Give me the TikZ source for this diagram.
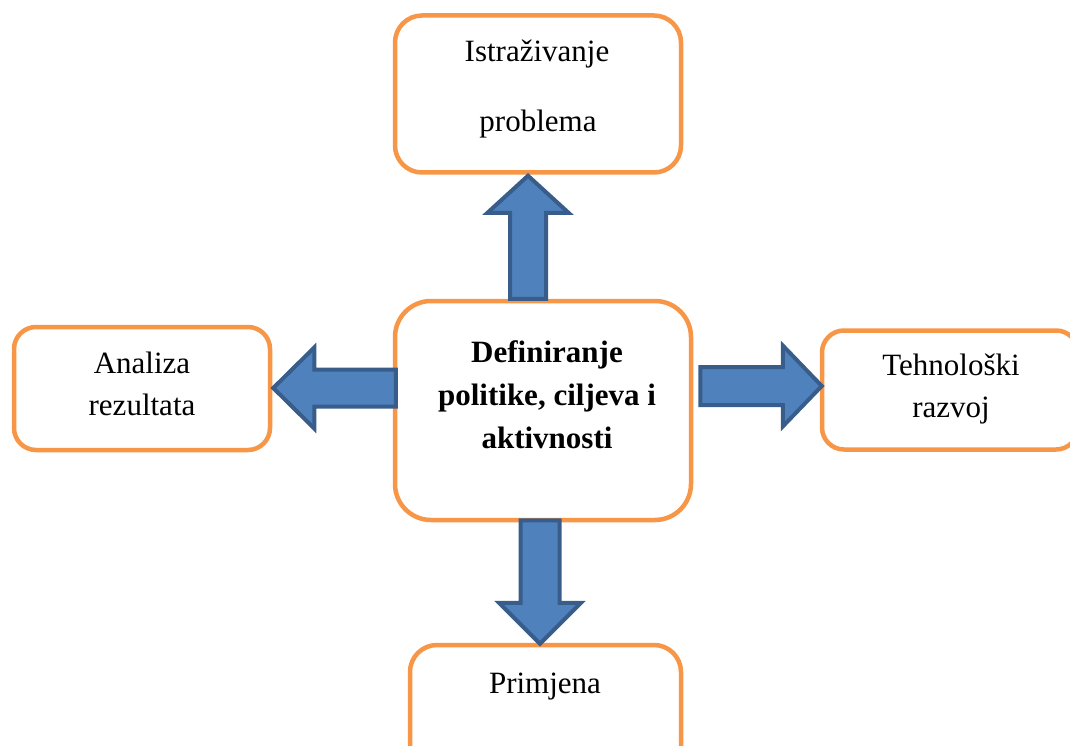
\documentclass[tikz,border=0pt]{standalone}
\usepackage{fontspec}
\setmainfont{Liberation Serif}
\usetikzlibrary{calc}
\definecolor{boxorange}{HTML}{F79646}
\definecolor{arrowfill}{HTML}{4F81BD}
\definecolor{arrowedge}{HTML}{385D8A}
% #1 start, #2 tip, #3 shaft half width, #4 head half width, #5 head length
\newcommand\blockarrow[5]{%
  \path ($(#2)!#5!(#1)$) coordinate (bah);
  \draw[barrow] ($(#1)!#3!90:(#2)$) -- ($(bah)!#3!90:(#2)$) -- ($(bah)!#4!90:(#2)$)
    -- (#2) -- ($(bah)!#4!-90:(#2)$) -- ($(bah)!#3!-90:(#2)$) -- ($(#1)!#3!-90:(#2)$) -- cycle;
}
\begin{document}
\begin{tikzpicture}[x=1pt,y=-1pt,
  box/.style={draw=boxorange, line width=4.5pt, fill=white, rounded corners=#1, inner sep=0pt},
  txt/.style={font=\fontsize{31}{43}\selectfont, anchor=base, inner sep=0pt},
  btxt/.style={txt, font=\fontsize{31}{43}\selectfont\bfseries},
  barrow/.style={draw=arrowedge, fill=arrowfill, line width=4pt, line join=miter}]
\useasboundingbox (0,0) rectangle (1070,746);
\clip (0,0) rectangle (1070,746);

% boxes
\node[box=27pt, minimum width=286, minimum height=157] (top) at (538,94) {};
\node[box=36pt, minimum width=296, minimum height=219] (center) at (543,410.5) {};
\node[box=22pt, minimum width=256, minimum height=123] (left) at (142,388.5) {};
\node[box=22pt, minimum width=256, minimum height=119] (right) at (950,390) {};
\node[box=27pt, minimum width=271, minimum height=160] (bottom) at (545.5,725) {};

% texts
\node[txt] (t1) at (537,62) {Istraživanje};
\node[txt] (t2) at (538,132) {problema};
\node[txt] (l1) at (142,373) {Analiza};
\node[txt] (l2) at (142,415) {rezultata};
\node[txt] (r1) at (951,375) {Tehnološki};
\node[txt] (r2) at (951,417) {razvoj};
\node[btxt] (c1) at (547,362) {Definiranje};
\node[btxt] (c2) at (547,405) {politike, ciljeva i};
\node[btxt] (c3) at (547,448) {aktivnosti};
\node[txt] (b1) at (545,693) {Primjena};

% arrow axes
\coordinate (ux) at (528,0);
\coordinate (dx) at (540,0);
\coordinate (ly) at (0,388);
\coordinate (ry) at (0,386);
\coordinate (uS) at (center.north -| ux);
\coordinate (uE) at ($(top.south -| ux)+(0,1)$);
\coordinate (lS) at ($(center.west |- ly)+(3,0)$);
\coordinate (lE) at ($(left.east |- ly)+(1,0)$);
\coordinate (rS) at ($(center.east |- ry)+(7,0)$);
\coordinate (rE) at ($(right.west |- ry)+(2,0)$);
\coordinate (dS) at ($(center.south -| dx)+(0,-2)$);
\coordinate (dE) at ($(bottom.north -| dx)+(0,1)$);

\blockarrow{uS}{uE}{18pt}{40.5pt}{37pt}
\blockarrow{lS}{lE}{18.5pt}{40.5pt}{41pt}
\blockarrow{rS}{rE}{19pt}{40.5pt}{39pt}
\blockarrow{dS}{dE}{19.5pt}{41pt}{41pt}
\end{tikzpicture}
\end{document}
